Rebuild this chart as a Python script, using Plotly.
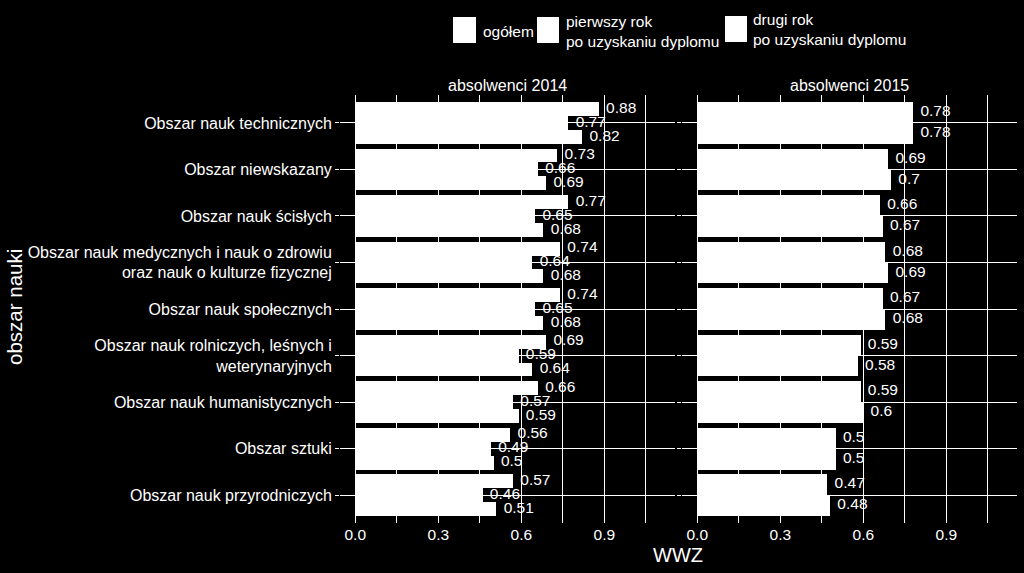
import plotly.graph_objects as go

# ---------------- data ----------------
categories = [
    "Obszar nauk technicznych",
    "Obszar niewskazany",
    "Obszar nauk ścisłych",
    "Obszar nauk medycznych i nauk o zdrowiu<br>oraz nauk o kulturze fizycznej",
    "Obszar nauk społecznych",
    "Obszar nauk rolniczych, leśnych i<br>weterynaryjnych",
    "Obszar nauk humanistycznych",
    "Obszar sztuki",
    "Obszar nauk przyrodniczych",
]
series_names = [
    "ogółem",
    "pierwszy rok<br>po uzyskaniu dyplomu",
    "drugi rok<br>po uzyskaniu dyplomu",
]
panels = ["absolwenci 2014", "absolwenci 2015"]

wwz_2014_ogolem = [0.88, 0.73, 0.77, 0.74, 0.74, 0.69, 0.66, 0.56, 0.57]
wwz_2014_pierwszy = [0.77, 0.66, 0.65, 0.64, 0.65, 0.59, 0.57, 0.49, 0.46]
wwz_2014_drugi = [0.82, 0.69, 0.68, 0.68, 0.68, 0.64, 0.59, 0.50, 0.51]
wwz_2015_ogolem = [0.78, 0.69, 0.66, 0.68, 0.67, 0.59, 0.59, 0.50, 0.47]
wwz_2015_pierwszy = [0.78, 0.70, 0.67, 0.69, 0.68, 0.58, 0.60, 0.50, 0.48]

x_ticks = [0.0, 0.3, 0.6, 0.9]
x_ticktext = ["0.0", "0.3", "0.6", "0.9"]

panel_series = [
    [wwz_2014_ogolem, wwz_2014_pierwszy, wwz_2014_drugi],
    [wwz_2015_ogolem, wwz_2015_pierwszy],
]

# ---------------- layout helpers ----------------
W, H = 1024, 573
FONT = "Liberation Sans, Arial, sans-serif"


def px(x):
    return x / W


def py(y):
    return 1 - y / H


n_cat = len(categories)
cat_pos = [n_cat - i for i in range(n_cat)]  # top category highest

fig = go.Figure()

for p, series_list in enumerate(panel_series):
    n = len(series_list)
    bw = 0.9 / n
    xa = "x" if p == 0 else "x2"
    ya = "y" if p == 0 else "y2"
    for s, vals in enumerate(series_list):
        off = 0.45 - (s + 0.5) * bw
        ys = [c + off for c in cat_pos]
        fig.add_trace(go.Bar(
            x=vals, y=ys, orientation="h", width=bw,
            marker=dict(color="white", line=dict(width=0)),
            name=series_names[s].replace("<br>", " "),
            showlegend=False, xaxis=xa, yaxis=ya, hoverinfo="skip",
        ))
        fig.add_trace(go.Scatter(
            x=vals, y=ys, mode="markers+text",
            marker=dict(size=10, opacity=0, color="black"),
            text=[f"{v:g}" for v in vals],
            textposition="middle right",
            textfont=dict(color="white", size=15.5, family=FONT),
            showlegend=False, xaxis=xa, yaxis=ya, cliponaxis=False,
            hoverinfo="skip",
        ))

x_range = [-0.055, 1.155]
y_range = [0.4, n_cat + 0.6]
dom_y = [py(523), py(95)]

axis_common = dict(
    range=x_range, tickvals=x_ticks, ticktext=x_ticktext,
    showgrid=True, gridcolor="white", gridwidth=1,
    minor=dict(showgrid=True, gridcolor="white", gridwidth=1,
               tickvals=[0.15, 0.45, 0.75, 1.05]),
    zeroline=False, showline=False,
    ticks="",
    tickfont=dict(color="white", size=15.5, family=FONT),
    fixedrange=True,
)
fig.update_layout(
    xaxis=dict(domain=[px(340), px(675)], anchor="y", **axis_common),
    xaxis2=dict(domain=[px(682), px(1017)], anchor="y2", **axis_common),
    yaxis=dict(domain=dom_y, anchor="x", range=y_range,
               tickvals=cat_pos, ticktext=categories,
               showgrid=True, gridcolor="white", gridwidth=1,
               zeroline=False, showline=False,
               ticks="outside", ticklen=4, tickcolor="white", tickwidth=1,
               tickfont=dict(color="white", size=16, family=FONT),
               fixedrange=True),
    yaxis2=dict(domain=dom_y, anchor="x2", range=y_range,
                tickvals=cat_pos, showticklabels=False,
                showgrid=True, gridcolor="white", gridwidth=1,
                zeroline=False, showline=False,
                ticks="outside", ticklen=4, tickcolor="white", tickwidth=1,
                fixedrange=True),
    paper_bgcolor="black", plot_bgcolor="black",
    margin=dict(l=0, r=0, t=0, b=0),
    width=W, height=H, autosize=False,
    showlegend=False, bargap=0, barmode="overlay",
    font=dict(family=FONT, color="white"),
)

annotations = []


def label(text, x, y, size, **kw):
    d = dict(text=text, x=px(x), y=py(y), xref="paper", yref="paper",
             showarrow=False, xanchor="center", yanchor="middle",
             font=dict(size=size, color="white", family=FONT))
    d.update(kw)
    annotations.append(d)


# strip titles
label(panels[0], (340 + 675) / 2, 85, 16)
label(panels[1], (682 + 1017) / 2, 85, 16)
# axis titles
label("WWZ", 678, 555, 20)
label("obszar nauki", 14, 307, 20.5, textangle=-90)

# custom legend
legend_keys = [(453, 476, 17, 43), (537, 559, 17, 43), (725, 747, 16, 42)]
legend_text_x = [481, 564, 751]
shapes = []
for (x0, x1, y0, y1), tx, name in zip(legend_keys, legend_text_x, series_names):
    shapes.append(dict(type="rect", xref="paper", yref="paper",
                       x0=px(x0), x1=px(x1), y0=py(y1), y1=py(y0),
                       fillcolor="white", line=dict(width=0)))
    label(name, tx, (y0 + y1) / 2 + 1, 15.5, xanchor="left", align="left")

fig.update_layout(annotations=annotations, shapes=shapes)

fig.write_html("out.html", config={"displayModeBar": False},
               post_script="document.body.style.margin='0';")
